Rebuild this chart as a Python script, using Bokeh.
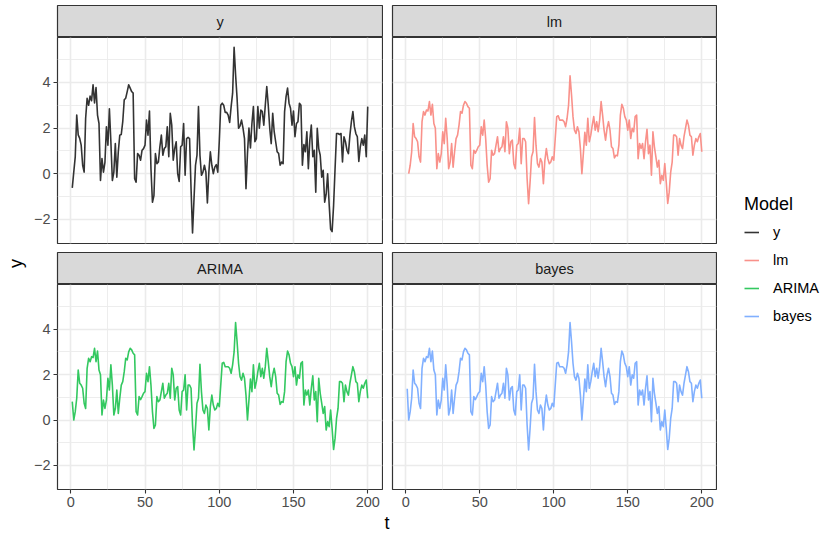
from math import pi
from bokeh.plotting import figure
from bokeh.layouts import row, column, Spacer
from bokeh.models import Range1d, FixedTicker, Label, Legend, LegendItem, LinearAxis, Grid
from bokeh.embed import file_html
from bokeh.resources import INLINE

FONT = "Liberation Sans"

# ---------------- data ----------------
t_all = list(range(1, 201))   # time index for y, ARIMA, bayes
t_fit = list(range(2, 201))   # lm has no fitted value at t = 1

y_vals = [
    -0.62, 0.07, 0.74, 2.57, 1.70, 1.55, 1.25, 0.37, 0.07, 2.43,
    3.30, 3.00, 3.40, 3.20, 3.90, 3.10, 3.78, 2.57, 2.20, -0.30,
    0.66, 0.07, 0.50, 2.06, 1.25, 2.84, 1.40, -0.30, 0.07, 1.32,
    -0.15, 0.96, 1.69, 1.72, 2.28, 3.24, 3.31, 3.60, 3.90, 3.75,
    3.60, 3.53, -0.22, -0.37, 0.88, 0.81, 0.59, 1.03, 1.10, 1.25,
    2.35, 1.69, 2.75, 0.22, -1.25, -0.96, 0.88, 0.44, 0.51, 1.18,
    1.69, 0.81, 1.10, 1.18, 2.06, 0.74, 2.65, 2.13, 0.59, 1.10,
    1.40, 0.00, -0.34, 1.18, 1.25, 2.20, -0.07, 1.54, 1.59, 1.54,
    -0.66, -2.60, -1.10, 0.37, 0.81, 2.94, 0.81, -0.07, 0.07, 0.37,
    0.07, -1.28, 0.07, 0.96, 0.37, 0.00, 0.29, 0.40, 0.07, 1.40,
    3.00, 3.09, 3.00, 2.69, 2.69, 2.57, 2.25, 2.94, 3.53, 5.54,
    4.34, 3.31, 1.99, 2.10, 2.35, 2.00, 1.54, -0.66, 0.88, 2.00,
    1.13, 2.20, 2.94, 1.40, 1.54, 2.94, 1.99, 2.79, 2.72, 2.13,
    3.00, 3.82, 3.00, 1.99, 1.32, 2.65, 1.84, 1.40, 0.96, 0.88,
    0.37, 0.51, 0.44, 2.72, 3.38, 3.75, 3.09, 2.87, 2.13, 2.75,
    1.62, 2.20, 2.28, 3.09, 3.00, 0.37, 1.28, 0.96, 1.84, 0.22,
    1.47, 2.13, 0.74, 1.03, -0.81, 1.99, 1.10, 0.81, -0.15, 0.15,
    -1.25, -0.90, 0.00, -1.32, -2.43, -2.54, -1.40, 0.22, 1.76, 1.76,
    1.72, 1.76, 0.51, 1.62, 1.40, 1.03, 0.88, 1.69, 2.28, 2.72,
    2.06, 1.76, 1.62, 0.54, 1.18, 1.54, 1.25, 1.69, 0.74, 2.94,
]

lm_vals = [
    0.00, 0.37, 0.96, 2.20, 1.62, 1.54, 1.40, 0.74, 0.51,
    2.28, 2.72, 2.57, 2.79, 2.75, 3.16, 2.57, 3.04, 2.20, 1.99,
    0.22, 0.88, 0.51, 0.88, 1.84, 1.32, 2.43, 1.54, 0.22, 0.51,
    1.32, 0.29, 0.96, 1.54, 1.69, 2.13, 2.72, 2.65, 3.00, 3.16,
    3.09, 2.94, 2.87, 0.37, 0.22, 1.03, 0.90, 1.03, 1.18, 1.25,
    2.06, 1.69, 2.35, 1.54, 0.37, -0.37, -0.22, 1.03, 0.81, 0.88,
    1.25, 1.62, 0.96, 1.10, 1.18, 1.62, 0.96, 2.28, 1.99, 0.88,
    1.40, 1.47, 0.44, 0.22, 1.25, 1.32, 1.99, 0.44, 1.54, 1.54,
    1.40, -0.22, -1.32, -0.37, 0.74, 0.96, 2.46, 1.25, 0.44, 0.29,
    0.66, 0.51, -0.44, 0.59, 1.10, 0.66, 0.44, 0.51, 0.74, 0.59,
    1.54, 2.50, 2.54, 2.35, 2.35, 2.35, 2.28, 2.06, 2.43, 3.00,
    4.29, 3.46, 2.50, 1.91, 1.76, 2.06, 1.84, 1.10, 0.00, 0.88,
    1.81, 1.25, 2.43, 1.40, 1.69, 2.13, 2.50, 1.91, 2.28, 1.84,
    2.35, 3.16, 2.57, 1.91, 1.47, 1.99, 2.28, 1.91, 1.18, 1.10,
    0.69, 0.81, 0.78, 1.25, 2.57, 3.04, 2.87, 2.50, 2.35, 1.91,
    2.35, 1.54, 1.99, 1.84, 2.50, 2.57, 0.66, 1.32, 1.10, 1.32,
    0.66, 1.40, 1.95, 0.88, 1.25, -0.07, 1.84, 1.18, 0.74, 0.29,
    0.59, -0.44, -0.07, -0.29, 0.44, -0.37, -1.30, -0.81, 0.07, 0.51,
    1.69, 1.69, 1.62, 0.81, 1.54, 1.25, 1.10, 1.62, 1.99, 2.35,
    2.13, 1.69, 1.62, 0.81, 1.25, 1.54, 1.40, 1.62, 1.76, 0.96,
]

arima_vals = [
    0.81,
    0.00, 0.37, 0.96, 2.20, 1.62, 1.54, 1.40, 0.74, 0.51,
    2.28, 2.72, 2.57, 2.79, 2.75, 3.16, 2.57, 3.04, 2.20, 1.99,
    0.22, 0.88, 0.51, 0.88, 1.84, 1.32, 2.43, 1.54, 0.22, 0.51,
    1.32, 0.29, 0.96, 1.54, 1.69, 2.13, 2.72, 2.65, 3.00, 3.16,
    3.09, 2.94, 2.87, 0.37, 0.22, 1.03, 0.90, 1.03, 1.18, 1.25,
    2.06, 1.69, 2.35, 1.54, 0.37, -0.37, -0.22, 1.03, 0.81, 0.88,
    1.25, 1.62, 0.96, 1.10, 1.18, 1.62, 0.96, 2.28, 1.99, 0.88,
    1.40, 1.47, 0.44, 0.22, 1.25, 1.32, 1.99, 0.44, 1.54, 1.54,
    1.40, -0.22, -1.32, -0.37, 0.74, 0.96, 2.46, 1.25, 0.44, 0.29,
    0.66, 0.51, -0.44, 0.59, 1.10, 0.66, 0.44, 0.51, 0.74, 0.59,
    1.54, 2.50, 2.54, 2.35, 2.35, 2.35, 2.28, 2.06, 2.43, 3.00,
    4.29, 3.46, 2.50, 1.91, 1.76, 2.06, 1.84, 1.10, 0.00, 0.88,
    1.81, 1.25, 2.43, 1.40, 1.69, 2.13, 2.50, 1.91, 2.28, 1.84,
    2.35, 3.16, 2.57, 1.91, 1.47, 1.99, 2.28, 1.91, 1.18, 1.10,
    0.69, 0.81, 0.78, 1.25, 2.57, 3.04, 2.87, 2.50, 2.35, 1.91,
    2.35, 1.54, 1.99, 1.84, 2.50, 2.57, 0.66, 1.32, 1.10, 1.32,
    0.66, 1.40, 1.95, 0.88, 1.25, -0.07, 1.84, 1.18, 0.74, 0.29,
    0.59, -0.44, -0.07, -0.29, 0.44, -0.37, -1.30, -0.81, 0.07, 0.51,
    1.69, 1.69, 1.62, 0.81, 1.54, 1.25, 1.10, 1.62, 1.99, 2.35,
    2.13, 1.69, 1.62, 0.81, 1.25, 1.54, 1.40, 1.62, 1.76, 0.96,
]

bayes_vals = [
    1.38,
    0.00, 0.37, 0.96, 2.20, 1.62, 1.54, 1.40, 0.74, 0.51,
    2.28, 2.72, 2.57, 2.79, 2.75, 3.16, 2.57, 3.04, 2.20, 1.99,
    0.22, 0.88, 0.51, 0.88, 1.84, 1.32, 2.43, 1.54, 0.22, 0.51,
    1.32, 0.29, 0.96, 1.54, 1.69, 2.13, 2.72, 2.65, 3.00, 3.16,
    3.09, 2.94, 2.87, 0.37, 0.22, 1.03, 0.90, 1.03, 1.18, 1.25,
    2.06, 1.69, 2.35, 1.54, 0.37, -0.37, -0.22, 1.03, 0.81, 0.88,
    1.25, 1.62, 0.96, 1.10, 1.18, 1.62, 0.96, 2.28, 1.99, 0.88,
    1.40, 1.47, 0.44, 0.22, 1.25, 1.32, 1.99, 0.44, 1.54, 1.54,
    1.40, -0.22, -1.32, -0.37, 0.74, 0.96, 2.46, 1.25, 0.44, 0.29,
    0.66, 0.51, -0.44, 0.59, 1.10, 0.66, 0.44, 0.51, 0.74, 0.59,
    1.54, 2.50, 2.54, 2.35, 2.35, 2.35, 2.28, 2.06, 2.43, 3.00,
    4.29, 3.46, 2.50, 1.91, 1.76, 2.06, 1.84, 1.10, 0.00, 0.88,
    1.81, 1.25, 2.43, 1.40, 1.69, 2.13, 2.50, 1.91, 2.28, 1.84,
    2.35, 3.16, 2.57, 1.91, 1.47, 1.99, 2.28, 1.91, 1.18, 1.10,
    0.69, 0.81, 0.78, 1.25, 2.57, 3.04, 2.87, 2.50, 2.35, 1.91,
    2.35, 1.54, 1.99, 1.84, 2.50, 2.57, 0.66, 1.32, 1.10, 1.32,
    0.66, 1.40, 1.95, 0.88, 1.25, -0.07, 1.84, 1.18, 0.74, 0.29,
    0.59, -0.44, -0.07, -0.29, 0.44, -0.37, -1.30, -0.81, 0.07, 0.51,
    1.69, 1.69, 1.62, 0.81, 1.54, 1.25, 1.10, 1.62, 1.99, 2.35,
    2.13, 1.69, 1.62, 0.81, 1.25, 1.54, 1.40, 1.62, 1.76, 0.96,
]

series_names = ["y", "lm", "ARIMA", "bayes"]
series_colors = ["#333333", "#F9918A", "#33C860", "#81B0FF"]
series_t = [t_all, t_fit, t_all, t_all]
series_v = [y_vals, lm_vals, arima_vals, bayes_vals]

x_ticks = [0, 50, 100, 150, 200]
x_minor = [25, 75, 125, 175]
y_ticks = [-2, 0, 2, 4]
y_minor = [-1, 1, 3, 5]
y_tick_labels = {-2: "\u22122", 0: "0", 2: "2", 4: "4"}

X_RANGE = (-8.95, 209.95)
Y_RANGE = (-3.06, 5.97)

# ---------------- layout sizes ----------------
YLAB_W = 30
TICK_W = 27       # room for the y tick labels
LEFT_W = TICK_W + 326
GAP_W = 8
RIGHT_W = 326
LEG_W = 829 - YLAB_W - LEFT_W - GAP_W - RIGHT_W
TOP_PAD = 4
STRIP_H = 33
PANEL_TOP_H = 207
ROW_GAP = 7
PANEL_BOT_H = 229
TLAB_H = 533 - TOP_PAD - 2 * STRIP_H - PANEL_TOP_H - ROW_GAP - PANEL_BOT_H


def base_fig(width, height, xr, yr, **kw):
    p = figure(width=width, height=height, x_range=xr, y_range=yr,
               output_backend="svg", toolbar_location=None,
               x_axis_location=None, y_axis_location=None, **kw)
    p.grid.visible = False
    p.background_fill_color = "white"
    p.border_fill_color = "white"
    p.outline_line_color = None
    return p


def make_strip(text, left):
    p = base_fig(LEFT_W if left else RIGHT_W, STRIP_H, Range1d(0, 1), Range1d(0, 1),
                 min_border=0, min_border_left=TICK_W if left else 1, min_border_right=1,
                 min_border_top=1, min_border_bottom=0)
    p.background_fill_color = "#D9D9D9"
    p.outline_line_color = "#333333"
    p.outline_line_width = 1.2
    p.add_layout(Label(x=0.5, y=0.5, text=text, text_align="center", text_baseline="middle",
                       text_font=FONT, text_font_size="14.5px", text_color="#1A1A1A"))
    return p


def make_panel(idx, left, bottom):
    p = base_fig(LEFT_W if left else RIGHT_W, PANEL_BOT_H if bottom else PANEL_TOP_H,
                 Range1d(*X_RANGE), Range1d(*Y_RANGE),
                 min_border=0, min_border_left=TICK_W if left else 1, min_border_right=1,
                 min_border_top=0, min_border_bottom=24 if bottom else 1)
    p.outline_line_color = "#333333"
    p.outline_line_width = 1.2
    for dim, ticks, minor in ((0, x_ticks, x_minor), (1, y_ticks, y_minor)):
        g = Grid(dimension=dim, ticker=FixedTicker(ticks=ticks, minor_ticks=minor),
                 grid_line_color="#EBEBEB", grid_line_width=1.6,
                 minor_grid_line_color="#EBEBEB", minor_grid_line_width=0.9)
        p.add_layout(g, "center")
    if left:
        ax = LinearAxis(ticker=FixedTicker(ticks=y_ticks), major_label_overrides=y_tick_labels)
        p.add_layout(ax, "left")
    if bottom:
        ax = LinearAxis(ticker=FixedTicker(ticks=x_ticks))
        p.add_layout(ax, "below")
    for ax in p.axis:
        ax.axis_line_color = None
        ax.major_tick_line_color = "#333333"
        ax.major_tick_line_width = 1.1
        ax.major_tick_out = 4
        ax.major_tick_in = 0
        ax.minor_tick_line_color = None
        ax.major_label_standoff = 3
        ax.major_label_text_font = FONT
        ax.major_label_text_font_size = "14.5px"
        ax.major_label_text_color = "#4D4D4D"
    p.line(series_t[idx], series_v[idx], line_color=series_colors[idx], line_width=1.6,
           line_join="round")
    return p


strips = [make_strip(series_names[i], i % 2 == 0) for i in range(4)]
panels = [make_panel(i, i % 2 == 0, i >= 2) for i in range(4)]

# y axis title (rotated, like ggplot)
ylab = base_fig(YLAB_W, 533, Range1d(0, YLAB_W), Range1d(0, 533), min_border=0)
ylab.add_layout(Label(x=15, y=533 - 263, text="y", angle=pi / 2, text_align="center",
                      text_baseline="middle", text_font=FONT, text_font_size="18px",
                      text_color="black"))

# x axis title
tw = LEFT_W + GAP_W + RIGHT_W
tlab = base_fig(tw, TLAB_H, Range1d(YLAB_W, YLAB_W + tw), Range1d(0, TLAB_H), min_border=0)
tlab.add_layout(Label(x=(57 + 716) / 2, y=1, text="t", text_align="center",
                      text_baseline="bottom", text_font=FONT, text_font_size="18px",
                      text_color="black"))

# legend figure (series drawn out of view so only the legend keys show)
leg = base_fig(LEG_W, 533, Range1d(-100, -90), Range1d(*Y_RANGE), min_border=0)
items = []
for i in range(4):
    r = leg.line(series_t[i], series_v[i], line_color=series_colors[i], line_width=1.6)
    items.append(LegendItem(label=series_names[i], renderers=[r]))
legend = Legend(items=items, title="Model", location=(27, 533 - 328),
                title_text_font=FONT, title_text_font_size="18px",
                title_text_font_style="normal", title_text_color="black", title_standoff=5,
                label_text_font=FONT, label_text_font_size="14.5px", label_text_color="black",
                glyph_width=15, glyph_height=24, label_height=24, spacing=4,
                label_standoff=14, padding=0, margin=0,
                border_line_color=None, background_fill_alpha=0)
leg.add_layout(legend)

main = column(
    Spacer(width=tw, height=TOP_PAD),
    row(strips[0], Spacer(width=GAP_W, height=STRIP_H), strips[1]),
    row(panels[0], Spacer(width=GAP_W, height=PANEL_TOP_H), panels[1]),
    Spacer(width=tw, height=ROW_GAP),
    row(strips[2], Spacer(width=GAP_W, height=STRIP_H), strips[3]),
    row(panels[2], Spacer(width=GAP_W, height=PANEL_BOT_H), panels[3]),
    tlab,
)
layout = row(ylab, main, leg)

open("out.html", "w").write(file_html(layout, INLINE, "Model fits"))
